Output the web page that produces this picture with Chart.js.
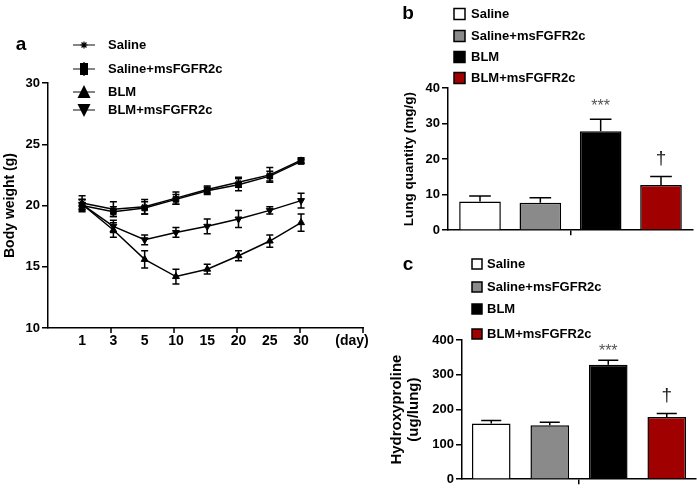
<!DOCTYPE html>
<html><head><meta charset="utf-8">
<script src="https://cdn.jsdelivr.net/npm/chart.js@4/dist/chart.umd.min.js"></script>
<style>
html,body{margin:0;padding:0;background:#fff;}
body{width:697px;height:489px;position:relative;overflow:hidden;}
.p{position:absolute;}
</style></head><body>
<div class="p" style="left:0;top:0;width:380px;height:360px"><canvas id="ca"></canvas></div>
<div class="p" style="left:380px;top:0;width:317px;height:240px"><canvas id="cb"></canvas></div>
<div class="p" style="left:380px;top:240px;width:317px;height:249px"><canvas id="cc"></canvas></div>
<script>
// ---------- data ----------
const days = ['1','3','5','10','15','20','25','30'];
const dayUnit = '(day)';
const groups = ['Saline','Saline+msFGFR2c','BLM','BLM+msFGFR2c'];

const wSaline   = [20.2,19.7,19.9,20.6,21.3,21.9,22.5,23.7];
const wSalineMs = [20.0,19.5,19.8,20.5,21.2,21.7,22.4,23.6];
const wBLM      = [20.1,18.0,15.6,14.2,14.8,15.9,17.1,18.6];
const wBLMMs    = [20.1,18.3,17.2,17.8,18.3,18.9,19.6,20.4];
const eSaline   = [0.6,0.6,0.6,0.5,0.3,0.4,0.6,0.2];
const eSalineMs = [0.5,0.4,0.5,0.4,0.3,0.5,0.4,0.2];
const eBLM      = [0.4,0.6,0.7,0.6,0.4,0.4,0.5,0.7];
const eBLMMs    = [0.4,0.5,0.4,0.4,0.6,0.7,0.3,0.6];

const lungQty = [8.1,7.7,27.8,12.7];
const lungErr = [1.5,1.4,3.4,2.4];
const hypro   = [160,155,329,179];
const hyproErr= [9,9,13,10];
const sigMarks = ['','','***','\u2020'];

const barColors = ['#ffffff','#8a8a8a','#000000','#a00000'];

// ---------- defaults ----------
Chart.defaults.font.family = '"Liberation Sans", Arial, Helvetica, sans-serif';
Chart.defaults.font.weight = 'bold';
Chart.defaults.font.size = 13;
Chart.defaults.color = '#000';
Chart.defaults.animation = false;
Chart.defaults.responsive = true;
Chart.defaults.maintainAspectRatio = false;
Chart.defaults.plugins.legend.display = false;
Chart.defaults.plugins.tooltip.enabled = false;

// ---------- plugins ----------
const errorBars = {
  id: 'errorBars',
  afterDatasetsDraw(chart) {
    const ctx = chart.ctx, ys = chart.scales.y;
    chart.data.datasets.forEach((ds, di) => {
      if (!ds.errors) return;
      const meta = chart.getDatasetMeta(di);
      ctx.save();
      ctx.strokeStyle = '#000';
      ctx.lineWidth = 1.5;
      meta.data.forEach((el, i) => {
        const raw = ds.data[i];
        const v = (typeof raw === 'object') ? raw.y : raw;
        const e = ds.errors[i];
        const x = el.x;
        const yt = ys.getPixelForValue(v + e);
        const yb = ds.errorUp ? ys.getPixelForValue(v) : ys.getPixelForValue(v - e);
        const half = ds.errorUp ? el.width * 0.26 : 3.5;
        ctx.beginPath();
        ctx.moveTo(x, yb); ctx.lineTo(x, yt);
        ctx.moveTo(x - half, yt); ctx.lineTo(x + half, yt);
        if (!ds.errorUp) { ctx.moveTo(x - half, yb); ctx.lineTo(x + half, yb); }
        ctx.stroke();
      });
      ctx.restore();
    });
  }
};

const sigPlugin = {
  id: 'sig',
  afterDatasetsDraw(chart) {
    const ctx = chart.ctx, ys = chart.scales.y;
    chart.data.datasets.forEach((ds, di) => {
      const mark = sigMarks[di];
      if (!mark) return;
      const el = chart.getDatasetMeta(di).data[0];
      const top = ys.getPixelForValue(ds.data[0] + ds.errors[0]);
      ctx.save();
      ctx.textAlign = 'center';
      if (mark === '***') {
        ctx.fillStyle = '#555';
        ctx.font = 'normal 16px "Liberation Sans", Arial, sans-serif';
        ctx.textBaseline = 'alphabetic';
        ctx.fillText(mark, el.x, top - chart.options.sigOffset[0]);
      } else {
        ctx.fillStyle = '#222';
        ctx.font = 'normal 19px "Liberation Sans", Arial, sans-serif';
        ctx.textBaseline = 'middle';
        ctx.fillText(mark, el.x, top - chart.options.sigOffset[1]);
      }
      ctx.restore();
    });
  }
};

function panelLetter(ctx, letter, x, y) {
  ctx.save();
  ctx.fillStyle = '#000';
  ctx.font = 'bold 19px "Liberation Sans", Arial, sans-serif';
  ctx.textAlign = 'center';
  ctx.textBaseline = 'middle';
  ctx.fillText(letter, x, y);
  ctx.restore();
}

const boxLegend = {
  id: 'boxLegend',
  afterDraw(chart) {
    const o = chart.options.boxLegend;
    const ctx = chart.ctx;
    panelLetter(ctx, o.letter, o.letterX, o.letterY);
    ctx.save();
    ctx.font = 'bold 13px "Liberation Sans", Arial, sans-serif';
    ctx.textBaseline = 'middle';
    ctx.textAlign = 'left';
    chart.data.datasets.forEach((ds, i) => {
      const y = o.ys[i];
      ctx.fillStyle = ds.backgroundColor;
      ctx.fillRect(o.boxX, y - o.box / 2, o.box, o.box);
      ctx.strokeStyle = '#000';
      ctx.lineWidth = 1.5;
      ctx.strokeRect(o.boxX, y - o.box / 2, o.box, o.box);
      ctx.fillStyle = '#000';
      ctx.fillText(ds.label, o.textX, y + 0.5);
    });
    ctx.restore();
  }
};

const lineLegend = {
  id: 'lineLegend',
  afterDraw(chart) {
    const ctx = chart.ctx;
    panelLetter(ctx, 'a', 21, 45);
    const ys = [45, 69, 92, 110];
    const cx = 84;
    ctx.save();
    ctx.font = 'bold 13px "Liberation Sans", Arial, sans-serif';
    ctx.textBaseline = 'middle';
    chart.data.datasets.forEach((ds, i) => {
      const y = ys[i];
      ctx.strokeStyle = '#333';
      ctx.lineWidth = 1.2;
      ctx.beginPath(); ctx.moveTo(73, y); ctx.lineTo(95, y); ctx.stroke();
      ctx.fillStyle = '#000';
      ctx.strokeStyle = '#000';
      ctx.beginPath();
      if (i === 0) {
        ctx.lineWidth = 1.2;
        for (let k = 0; k < 4; k++) {
          const a = k * Math.PI / 4;
          ctx.moveTo(cx - 3.5 * Math.cos(a), y - 3.5 * Math.sin(a));
          ctx.lineTo(cx + 3.5 * Math.cos(a), y + 3.5 * Math.sin(a));
        }
        ctx.stroke();
      } else if (i === 1) {
        ctx.fillRect(cx - 4, y - 6, 8, 12);
        ctx.lineWidth = 1.2;
        ctx.moveTo(cx, y - 7); ctx.lineTo(cx, y + 7); ctx.stroke();
      } else if (i === 2) {
        ctx.moveTo(cx, y - 7); ctx.lineTo(cx + 6.5, y + 6); ctx.lineTo(cx - 6.5, y + 6);
        ctx.closePath(); ctx.fill();
      } else {
        ctx.moveTo(cx, y + 7); ctx.lineTo(cx + 6.5, y - 6); ctx.lineTo(cx - 6.5, y - 6);
        ctx.closePath(); ctx.fill();
      }
      ctx.fillStyle = '#000';
      ctx.fillText(ds.label, 108, y + 0.5);
    });
    ctx.restore();
  }
};

const xTickMarks = {
  id: 'xTickMarks',
  afterDraw(chart) {
    const a = chart.chartArea, ctx = chart.ctx;
    ctx.save();
    ctx.strokeStyle = '#000';
    ctx.lineWidth = 1.5;
    ctx.beginPath();
    for (let k = 1; k <= 5; k++) {
      const x = a.left + k * (a.right - a.left) / 5;
      ctx.moveTo(x, a.bottom); ctx.lineTo(x, a.bottom + 5);
    }
    ctx.stroke();
    ctx.restore();
  }
};

// ---------- panel a ----------
const lineSeries = [wSaline, wSalineMs, wBLM, wBLMMs];
const lineErrs = [eSaline, eSalineMs, eBLM, eBLMMs];
const pStyles = ['star','rect','triangle','triangle'];
const pRot = [0,0,0,180];

new Chart(document.getElementById('ca'), {
  type: 'line',
  data: {
    datasets: groups.map((g, i) => ({
      label: g,
      data: lineSeries[i].map((v, k) => ({x: k, y: v})),
      errors: lineErrs[i],
      borderColor: '#000',
      borderWidth: 1.5,
      pointStyle: pStyles[i],
      pointRotation: pRot[i],
      pointRadius: i === 0 ? 3.5 : 4,
      pointBackgroundColor: '#000',
      pointBorderColor: '#000',
      pointBorderWidth: 1,
      tension: 0
    }))
  },
  options: {
    layout: {padding: {top: 83, right: 17, left: 0, bottom: 0}},
    scales: {
      x: {
        type: 'linear', min: -1.09, max: 8.98,
        afterBuildTicks(s) {
          s.ticks = days.map((d, k) => ({value: k})).concat([{value: 8.63}]);
        },
        afterFit(s) { s.height = 32; },
        ticks: {
          autoSkip: false, maxRotation: 0, padding: 5,
          font: {size: 14, weight: 'bold'},
          callback(v) { return Number.isInteger(v) ? days[v] : dayUnit; }
        },
        grid: {display: false, drawTicks: false},
        border: {display: true, color: '#000', width: 1.5}
      },
      y: {
        min: 10, max: 30,
        afterFit(s) { s.width = 48; },
        ticks: {stepSize: 5, padding: 2, font: {size: 13, weight: 'bold'}},
        grid: {drawOnChartArea: false, drawTicks: true, tickLength: 6, color: '#000', lineWidth: 1.5},
        border: {display: true, color: '#000', width: 1.5},
        title: {display: true, text: 'Body weight (g)', font: {size: 14, weight: 'bold'}, padding: {top: 2, bottom: 0}}
      }
    }
  },
  plugins: [errorBars, lineLegend, xTickMarks]
});

// ---------- bar panels ----------
function barChart(id, values, errs, yMax, step, yTitle, titleSize, titleLH, titlePad, yWidth, xHeight, padTop, padRight, legendOpts, sigOffset, catPct, barPct) {
  return new Chart(document.getElementById(id), {
    type: 'bar',
    data: {
      labels: [''],
      datasets: groups.map((g, i) => ({
        label: g,
        data: [values[i]],
        errors: [errs[i]],
        errorUp: true,
        backgroundColor: barColors[i],
        borderColor: '#000',
        borderWidth: 1.5,
        categoryPercentage: catPct,
        barPercentage: barPct
      }))
    },
    options: {
      boxLegend: legendOpts,
      sigOffset: sigOffset,
      layout: {padding: {top: padTop, right: padRight, left: 0, bottom: 0}},
      scales: {
        x: {
          afterFit(s) { s.height = xHeight; },
          ticks: {display: false},
          grid: {offset: false, drawOnChartArea: false, drawTicks: true, tickLength: 5, color: '#000', lineWidth: 1.5},
          border: {display: true, color: '#000', width: 1.5}
        },
        y: {
          min: 0, max: yMax,
          afterFit(s) { s.width = yWidth; },
          ticks: {stepSize: step, padding: 2, font: {size: 13, weight: 'bold'}},
          grid: {drawOnChartArea: false, drawTicks: true, tickLength: 6, color: '#000', lineWidth: 1.5},
          border: {display: true, color: '#000', width: 1.5},
          title: {display: true, text: yTitle, font: {size: titleSize, weight: 'bold', lineHeight: titleLH}, padding: {top: titlePad, bottom: 0}}
        }
      }
    },
    plugins: [errorBars, sigPlugin, boxLegend]
  });
}

barChart('cb', lungQty, lungErr, 40, 10, 'Lung quantity (mg/g)', 13.5, 1.2, 21, 68, 7, 88, 4,
  {letter: 'b', letterX: 28, letterY: 14, boxX: 74, box: 11, textX: 91, ys: [14, 36, 57, 78]},
  [8, 18], 0.985, 0.69);

barChart('cc', hypro, hyproErr, 400, 100, ['Hydroxyproline', '(ug/lung)'], 15, 1.1, 9, 82, 6, 100, 1,
  {letter: 'c', letterX: 28, letterY: 25, boxX: 92, box: 10, textX: 107, ys: [24, 47, 69, 94]},
  [4, 18], 1.0, 0.66);
</script>
</body></html>
